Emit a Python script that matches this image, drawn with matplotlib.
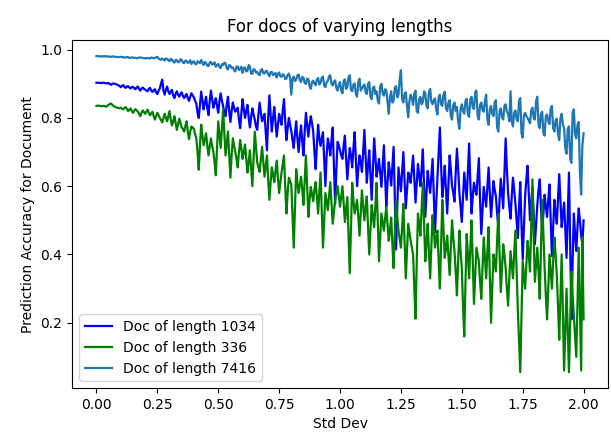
import numpy as np
import matplotlib
matplotlib.use("Agg")
import matplotlib.pyplot as plt

std_dev = [round(i * 0.005, 3) for i in range(401)]

acc_7416 = [
    0.981,0.981,0.981,0.980,0.980,0.981,0.980,0.981,0.980,0.980,0.980,0.979,0.979,0.980,0.980,0.979,0.979,0.978,0.978,0.979,
    0.979,0.978,0.978,0.977,0.977,0.978,0.978,0.976,0.976,0.977,0.977,0.976,0.976,0.975,0.975,0.977,0.977,0.976,0.976,0.975,
    0.975,0.974,0.976,0.975,0.974,0.977,0.976,0.975,0.975,0.978,0.979,0.974,0.972,0.970,0.974,0.972,0.968,0.974,0.973,0.969,
    0.966,0.973,0.971,0.965,0.962,0.970,0.969,0.963,0.964,0.972,0.970,0.962,0.960,0.968,0.967,0.961,0.963,0.969,0.958,0.964,
    0.966,0.958,0.957,0.966,0.963,0.960,0.970,0.962,0.955,0.964,0.961,0.953,0.952,0.962,0.964,0.956,0.958,0.963,0.950,0.955,
    0.958,0.949,0.946,0.957,0.955,0.962,0.960,0.945,0.942,0.955,0.953,0.946,0.948,0.940,0.936,0.950,0.951,0.940,0.944,0.950,
    0.932,0.945,0.948,0.936,0.938,0.955,0.950,0.930,0.929,0.943,0.941,0.933,0.935,0.928,0.925,0.940,0.943,0.931,0.930,0.937,
    0.938,0.927,0.922,0.934,0.935,0.925,0.928,0.932,0.918,0.929,0.933,0.922,0.920,0.928,0.926,0.914,0.915,0.926,0.930,0.918,
    0.868,0.915,0.921,0.908,0.912,0.925,0.927,0.910,0.905,0.920,0.918,0.902,0.900,0.915,0.914,0.892,0.885,0.905,0.909,0.900,
    0.896,0.912,0.917,0.898,0.902,0.918,0.921,0.894,0.890,0.905,0.908,0.922,0.925,0.900,0.895,0.906,0.910,0.887,0.880,0.898,
    0.905,0.880,0.872,0.908,0.913,0.885,0.890,0.920,0.925,0.882,0.878,0.898,0.901,0.870,0.862,0.905,0.915,0.880,0.886,0.893,
    0.898,0.875,0.870,0.900,0.905,0.862,0.855,0.888,0.892,0.870,0.878,0.850,0.842,0.893,0.900,0.872,0.865,0.884,0.881,0.845,
    0.812,0.860,0.878,0.845,0.850,0.888,0.893,0.860,0.868,0.915,0.940,0.855,0.845,0.870,0.875,0.835,0.802,0.850,0.868,0.858,
    0.838,0.872,0.880,0.820,0.815,0.855,0.862,0.840,0.846,0.878,0.872,0.835,0.828,0.875,0.885,0.848,0.840,0.852,0.857,0.825,
    0.810,0.860,0.868,0.840,0.835,0.870,0.877,0.828,0.820,0.845,0.852,0.805,0.795,0.838,0.845,0.820,0.832,0.790,0.768,0.825,
    0.840,0.820,0.812,0.850,0.856,0.810,0.803,0.855,0.862,0.830,0.826,0.875,0.880,0.805,0.795,0.838,0.845,0.822,0.818,0.850,
    0.868,0.795,0.780,0.825,0.835,0.812,0.805,0.845,0.852,0.772,0.760,0.820,0.828,0.802,0.795,0.835,0.840,0.818,0.812,0.790,
    0.878,0.790,0.775,0.815,0.822,0.795,0.790,0.850,0.858,0.755,0.742,0.808,0.815,0.805,0.800,0.792,0.784,0.822,0.830,0.800,
    0.795,0.850,0.862,0.780,0.770,0.812,0.818,0.755,0.748,0.805,0.810,0.790,0.782,0.828,0.835,0.770,0.760,0.792,0.798,0.752,
    0.735,0.800,0.812,0.780,0.770,0.710,0.695,0.768,0.775,0.680,0.668,0.815,0.825,0.752,0.740,0.780,0.788,0.640,0.575,0.720,
    0.755,
]

acc_1034 = [
    0.903,0.903,0.903,0.902,0.902,0.903,0.903,0.902,0.901,0.902,0.902,0.899,0.897,0.900,0.901,0.900,0.899,0.897,0.896,0.893,
    0.890,0.894,0.896,0.891,0.888,0.892,0.893,0.889,0.886,0.890,0.891,0.887,0.884,0.889,0.892,0.885,0.880,0.886,0.889,0.885,
    0.883,0.880,0.878,0.885,0.888,0.880,0.876,0.881,0.884,0.874,0.870,0.880,0.886,0.900,0.912,0.880,0.868,0.882,0.892,0.878,
    0.870,0.877,0.882,0.866,0.858,0.870,0.878,0.868,0.862,0.870,0.875,0.864,0.858,0.865,0.870,0.858,0.850,0.862,0.872,0.866,
    0.860,0.850,0.842,0.815,0.800,0.840,0.877,0.850,0.825,0.845,0.862,0.830,0.808,0.850,0.880,0.855,0.830,0.845,0.858,0.835,
    0.815,0.850,0.872,0.850,0.835,0.815,0.805,0.840,0.862,0.820,0.788,0.820,0.845,0.830,0.818,0.825,0.830,0.795,0.770,0.815,
    0.855,0.825,0.800,0.820,0.838,0.800,0.772,0.802,0.828,0.810,0.795,0.775,0.765,0.810,0.845,0.815,0.790,0.800,0.812,0.760,
    0.705,0.800,0.866,0.810,0.760,0.800,0.832,0.790,0.745,0.780,0.812,0.795,0.780,0.822,0.855,0.790,0.735,0.770,0.800,0.780,
    0.762,0.735,0.712,0.755,0.790,0.740,0.700,0.745,0.778,0.730,0.690,0.760,0.815,0.780,0.745,0.780,0.805,0.785,0.760,0.700,
    0.650,0.720,0.780,0.740,0.718,0.740,0.758,0.680,0.600,0.690,0.740,0.720,0.690,0.735,0.772,0.660,0.548,0.650,0.730,0.720,
    0.705,0.690,0.680,0.720,0.748,0.680,0.620,0.670,0.712,0.690,0.655,0.710,0.758,0.680,0.600,0.650,0.690,0.670,0.642,0.700,
    0.765,0.690,0.610,0.660,0.705,0.630,0.560,0.650,0.740,0.690,0.628,0.650,0.680,0.640,0.598,0.660,0.720,0.630,0.540,0.610,
    0.670,0.640,0.602,0.660,0.715,0.560,0.415,0.540,0.655,0.620,0.585,0.640,0.700,0.620,0.535,0.590,0.640,0.630,0.610,0.650,
    0.690,0.620,0.552,0.610,0.665,0.630,0.600,0.650,0.708,0.600,0.510,0.580,0.645,0.610,0.580,0.630,0.680,0.570,0.465,0.550,
    0.625,0.700,0.772,0.660,0.568,0.610,0.660,0.590,0.520,0.600,0.690,0.650,0.600,0.580,0.555,0.640,0.710,0.650,0.582,0.540,
    0.495,0.570,0.640,0.600,0.560,0.640,0.725,0.610,0.520,0.570,0.610,0.590,0.575,0.630,0.682,0.560,0.460,0.530,0.598,0.570,
    0.540,0.600,0.655,0.580,0.510,0.560,0.615,0.590,0.570,0.520,0.480,0.560,0.622,0.580,0.535,0.640,0.740,0.650,0.580,0.540,
    0.505,0.570,0.625,0.590,0.550,0.500,0.448,0.540,0.612,0.490,0.385,0.480,0.572,0.620,0.660,0.580,0.500,0.550,0.598,0.520,
    0.430,0.490,0.545,0.590,0.620,0.540,0.470,0.520,0.575,0.540,0.510,0.560,0.605,0.500,0.395,0.480,0.560,0.520,0.490,0.560,
    0.635,0.560,0.480,0.520,0.552,0.470,0.390,0.520,0.640,0.420,0.210,0.380,0.520,0.460,0.410,0.480,0.535,0.500,0.455,0.430,
    0.500,
]

acc_336 = [
    0.835,0.836,0.836,0.835,0.834,0.835,0.835,0.834,0.833,0.836,0.838,0.841,0.842,0.838,0.835,0.833,0.831,0.830,0.829,0.828,
    0.830,0.827,0.825,0.829,0.832,0.826,0.820,0.824,0.828,0.820,0.815,0.821,0.826,0.822,0.818,0.812,0.805,0.815,0.822,0.817,
    0.812,0.818,0.824,0.815,0.808,0.813,0.818,0.805,0.795,0.806,0.815,0.808,0.800,0.794,0.787,0.800,0.812,0.800,0.790,0.805,
    0.820,0.795,0.778,0.790,0.805,0.785,0.765,0.782,0.798,0.785,0.772,0.768,0.760,0.776,0.790,0.760,0.738,0.760,0.775,0.772,
    0.768,0.752,0.740,0.700,0.648,0.720,0.780,0.748,0.720,0.738,0.755,0.720,0.690,0.715,0.740,0.718,0.700,0.670,0.632,0.710,
    0.790,0.750,0.712,0.770,0.825,0.760,0.690,0.725,0.760,0.690,0.625,0.690,0.740,0.720,0.700,0.680,0.655,0.700,0.735,0.710,
    0.680,0.700,0.722,0.680,0.640,0.670,0.705,0.650,0.600,0.680,0.760,0.715,0.670,0.655,0.642,0.680,0.715,0.670,0.628,0.660,
    0.690,0.620,0.560,0.610,0.655,0.635,0.612,0.645,0.675,0.625,0.580,0.610,0.640,0.665,0.690,0.600,0.520,0.580,0.625,0.615,
    0.605,0.510,0.420,0.540,0.650,0.610,0.580,0.605,0.628,0.590,0.545,0.620,0.690,0.600,0.510,0.560,0.598,0.575,0.556,0.590,
    0.612,0.570,0.520,0.580,0.640,0.530,0.420,0.500,0.580,0.555,0.530,0.570,0.612,0.550,0.490,0.525,0.560,0.580,0.600,0.570,
    0.540,0.570,0.600,0.550,0.495,0.530,0.568,0.460,0.345,0.480,0.610,0.560,0.520,0.540,0.560,0.510,0.455,0.520,0.588,0.540,
    0.500,0.540,0.570,0.480,0.400,0.470,0.545,0.510,0.480,0.540,0.610,0.500,0.380,0.450,0.520,0.495,0.470,0.505,0.540,0.490,
    0.440,0.470,0.508,0.430,0.360,0.460,0.560,0.510,0.470,0.445,0.420,0.480,0.548,0.440,0.330,0.410,0.490,0.465,0.440,0.420,
    0.400,0.300,0.212,0.380,0.520,0.490,0.455,0.530,0.610,0.500,0.380,0.430,0.490,0.410,0.330,0.420,0.515,0.470,0.420,0.450,
    0.470,0.380,0.300,0.430,0.560,0.470,0.390,0.420,0.455,0.400,0.340,0.420,0.500,0.450,0.410,0.350,0.280,0.380,0.470,0.410,
    0.360,0.250,0.160,0.310,0.460,0.400,0.330,0.420,0.500,0.380,0.255,0.340,0.420,0.400,0.380,0.320,0.270,0.360,0.450,0.390,
    0.330,0.410,0.480,0.340,0.200,0.300,0.400,0.380,0.350,0.440,0.520,0.400,0.290,0.360,0.430,0.400,0.360,0.300,0.250,0.330,
    0.410,0.370,0.330,0.400,0.470,0.350,0.240,0.150,0.055,0.220,0.380,0.340,0.300,0.370,0.440,0.400,0.350,0.480,0.620,0.450,
    0.320,0.370,0.420,0.350,0.270,0.420,0.560,0.460,0.360,0.280,0.210,0.300,0.400,0.350,0.300,0.380,0.450,0.400,0.340,0.250,
    0.150,0.280,0.400,0.230,0.060,0.180,0.300,0.180,0.055,0.200,0.350,0.280,0.220,0.160,0.100,0.260,0.420,0.240,0.060,0.450,
    0.210,
]

labels = ["Doc of length 1034", "Doc of length 336", "Doc of length 7416"]

fig = plt.figure(figsize=(6.11, 4.43), dpi=100)
ax = fig.add_axes([0.118, 0.124, 0.877, 0.785])
ax.plot(std_dev, acc_1034, color="blue", lw=1.6, label=labels[0])
ax.plot(std_dev, acc_336, color="green", lw=1.6, label=labels[1])
ax.plot(std_dev, acc_7416, color="#1f77b4", lw=1.6, label=labels[2])
ax.set_title("For docs of varying lengths")
ax.set_xlabel("Std Dev")
ax.set_ylabel("Prediction Accuracy for Document")
ax.set_xticks([0, 0.25, 0.5, 0.75, 1.0, 1.25, 1.5, 1.75, 2.0])
ax.set_yticks([0.2, 0.4, 0.6, 0.8, 1.0])
ax.legend(loc="lower left")
fig.savefig("out.png", dpi=100)
